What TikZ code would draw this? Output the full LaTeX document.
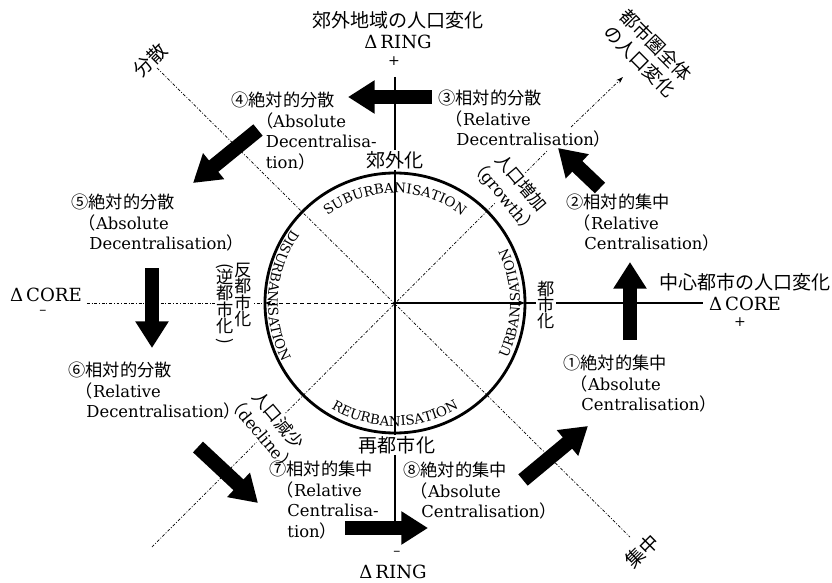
\documentclass[tikz,border=0pt]{standalone}
\usepackage{fontspec}
\setmainfont{DejaVu Serif}
\newfontfamily\jp[Scale=1.05]{Noto Sans CJK JP}
\usepackage{graphicx}
\usepackage{tikz}
\usetikzlibrary{arrows.meta}
\usetikzlibrary{decorations.text}

\newcommand{\lp}{\hspace*{0.45em}{\jp （}}
\newcommand{\rp}{{\jp ）}}
\newcommand{\ind}{\hspace*{1.1em}}
\newcommand{\vlp}{\rotatebox[origin=c]{-90}{\jp (}}
\newcommand{\vrp}{\rotatebox[origin=c]{-90}{\jp )}}

\tikzset{
  lab/.style={align=left, anchor=west, inner sep=1pt,
    font=\fontsize{14}{17.5}\selectfont},
  ttl/.style={align=center, inner sep=1pt,
    font=\fontsize{15.5}{18.5}\selectfont},
  sgn/.style={inner sep=0pt, font=\fontsize{12}{12}\selectfont},
  vtxt/.style={align=center, inner sep=1pt, fill=white,
    font=\jp\fontsize{14}{14}\selectfont},
  fat/.style={line width=0.44cm, -{Triangle[width=0.95cm,length=0.8cm]}},
  diag/.style={line width=0.6pt, dash pattern=on 2.5pt off 1.5pt on 0.8pt off 1.5pt},
  ring/.style={decorate, decoration={text along path, text align=center,
    text={|\fontsize{11.5}{11.5}\selectfont|#1}}},
}

\begin{document}
\begin{tikzpicture}[x=0.03cm, y=0.03cm]
  \useasboundingbox (-395,-279) rectangle (437,303);

  % axes and diagonals
  \coordinate (o) at (0,0);
  \coordinate (ringtop) at (0,226);
  \coordinate (ringbot) at (0,-227);
  \coordinate (coreleft) at (-308,0);
  \coordinate (coreright) at (308,0);
  \coordinate (cl) at (180:130);
  \coordinate (cr) at (0:130);
  \coordinate (disp) at (-238,235);
  \coordinate (conc) at (235,-234);
  \coordinate (grow) at (228,226);
  \coordinate (decl) at (-243,-244);
  \coordinate (g1) at (152,152);
  \coordinate (g2) at (176,176);

  \draw[diag] (disp) -- (conc);
  \draw[diag] (decl) -- (g1);
  \draw[diag, -{Stealth[length=6pt,width=4pt]}] (g2) -- (grow);
  \draw[line width=1.4pt] (ringtop) -- (ringbot);
  \draw[diag] (coreleft) -- (cl);
  \draw[dashed, line width=0.7pt, -{Stealth[length=6pt]}] (o) -- (cl);
  \draw[line width=1.2pt, -{Stealth[length=6pt]}] (o) -- (cr);
  \draw[line width=0.9pt] (cr) -- (coreright);

  \draw[line width=2.4pt] (o) circle[radius=130];

  % texts along the ring
  \path[ring=SUBURBANISATION] (160:110) arc[start angle=160, end angle=20, radius=110];
  \path[ring=URBANISATION] (-40:125) arc[start angle=-40, end angle=40, radius=125];
  \path[ring=DISURBANISATION] (140:127) arc[start angle=140, end angle=212, radius=127];
  \path[ring=REURBANISATION] (200:123) arc[start angle=200, end angle=340, radius=123];

  % axis titles
  \node[ttl] (ringp) at (3,273) {{\jp 郊外地域の人口変化}\\Δ\,RING};
  \node[sgn] (plus1) at (-1,242) {+};
  \node[ttl] (ringm) at (-2,-269) {Δ\,RING};
  \node[sgn] (minus1) at (2,-250) {–};
  \node[ttl] (corem) at (-349,8) {Δ\,CORE};
  \node[sgn] (minus2) at (-352,-9) {–};
  \node[ttl] (corep) at (350,11) {{\jp 中心都市の人口変化}\\Δ\,CORE};
  \node[sgn] (plus2) at (345,-19) {+};
  \node[ttl, rotate=45] (dispt) at (-245,243) {\jp 分散};
  \node[ttl, rotate=45] (conct) at (247,-248) {\jp 集中};
  \node[ttl, rotate=-45, font=\jp\fontsize{15}{19}\selectfont] (growt) at (253,250)
    {都市圏全体\\の人口変化};
  \node[lab, anchor=center, align=center, fill=white, rotate=-50,
    font=\fontsize{14}{18.5}\selectfont] (gain) at (117,113)
    {{\jp 人口増加}\\{\jp （}growth\rp};
  \node[lab, anchor=center, align=center, fill=white, rotate=-50,
    font=\fontsize{14}{18.5}\selectfont] (loss) at (-125,-124)
    {{\jp 人口減少}\\{\jp （}decline\rp};

  % phases on the axes
  \node[ttl, fill=white] (sub) at (0,143) {\jp 郊外化};
  \node[ttl, fill=white] (reurb) at (2,-142) {\jp 再都市化};
  \node[vtxt] (urb) at (151,-2) {都\\市\\化};
  \node[vtxt] (disurb) at (-152,8) {反\\都\\市\\化};
  \node[vtxt] (disurb2) at (-170,-2) {\vlp\\[-4pt]逆\\都\\市\\化\\[-2pt]\vrp};

  % stages
  \node[lab] (s1) at (167,-81) {{\jp ①絶対的集中}\\\lp Absolute\\\ind Centralisation\rp};
  \node[lab] (s2) at (170,80) {{\jp ②相対的集中}\\\lp Relative\\\ind Centralisation\rp};
  \node[lab] (s3) at (42,184) {{\jp ③相対的分散}\\\lp Relative\\\ind Decentralisation\rp};
  \node[lab] (s4) at (-165,172) {{\jp ④絶対的分散}\\\hspace*{1.5em}{\jp （}Absolute\\
    \hspace*{2.1em}Decentralisa-\\\hspace*{2.1em}tion\rp};
  \node[lab] (s5) at (-325,80) {{\jp ⑤絶対的分散}\\\lp Absolute\\\ind Decentralisation\rp};
  \node[lab] (s6) at (-328,-88) {{\jp ⑥相対的分散}\\\lp Relative\\\ind Decentralisation\rp};
  \node[lab] (s7) at (-127,-197) {{\jp ⑦相対的集中}\\\lp Relative\\\ind Centralisa-\\\ind tion\rp};
  \node[lab] (s8) at (7,-188) {{\jp ⑧絶対的集中}\\\lp Absolute\\\ind Centralisation\rp};

  % transitions
  \coordinate (t1) at (128,-177); \coordinate (h1) at (193,-123);
  \coordinate (t2) at (235,-37);  \coordinate (h2) at (235,41);
  \coordinate (t3) at (205,115);  \coordinate (h3) at (163,155);
  \coordinate (t4) at (37,206);   \coordinate (h4) at (-47,206);
  \coordinate (t5) at (-137,173); \coordinate (h5) at (-202,120);
  \coordinate (t6) at (-243,35);  \coordinate (h6) at (-243,-45);
  \coordinate (t7) at (-197,-144); \coordinate (h7) at (-137,-200);
  \coordinate (t8) at (-50,-225); \coordinate (h8) at (33,-225);
  \foreach \i in {1,...,8}
    \draw[fat] (t\i) -- (h\i);
\end{tikzpicture}
\end{document}
